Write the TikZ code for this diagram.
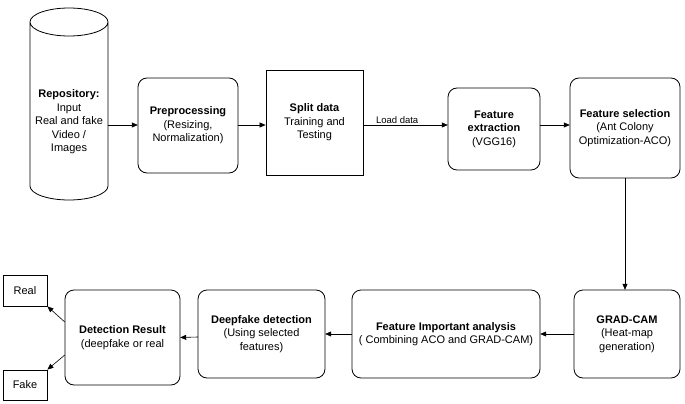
\documentclass[tikz,border=0pt]{standalone}
\usepackage{fontspec}
\setmainfont{Liberation Sans}
\usetikzlibrary{arrows.meta}
\begin{document}
\begin{tikzpicture}[x=1pt,y=-1pt,
  every node/.style={font=\fontsize{11}{13.5}\selectfont, align=center, inner sep=1pt},
  rbox/.style={draw, thick, rounded corners=9pt},
  sbox/.style={draw, thick},
  arr/.style={-{Triangle[length=6pt,width=5pt]}, semithick}]
\useasboundingbox (0,0) rectangle (685,404);
\draw[thick] (30,22) arc[start angle=180,end angle=360,x radius=39,y radius=-14]
  arc[start angle=0,end angle=180,x radius=39,y radius=-14] -- (30,186)
  arc[start angle=180,end angle=360,x radius=39,y radius=-14] -- (108,22);
\node[minimum width=78pt, minimum height=192pt] (repo) at (69,104) {};
\node at (69,122) (repot) {\textbf{Repository:}\\Input\\Real and fake\\Video /\\Images};
\draw[rbox] (138,78) rectangle (238,173);
\node (pre) at (188,125.5) [minimum width=100pt,minimum height=95pt] {\textbf{Preprocessing}\\(Resizing,\\Normalization)};
\node[sbox, minimum width=97pt, minimum height=105pt] (split) at (314.5,122.5) {\textbf{Split data}\\Training and\\Testing};
\draw[rbox] (448,88) rectangle (540,170);
\node (fe) at (494,129) [minimum width=92pt,minimum height=82pt] {\textbf{Feature}\\\textbf{extraction}\\(VGG16)};
\draw[rbox] (570,78) rectangle (680,178);
\node (fs) at (625,128) [minimum width=110pt,minimum height=100pt] {\textbf{Feature selection}\\(Ant Colony\\Optimization-ACO)};
\draw[rbox] (574,290) rectangle (680,378);
\node (gc) at (627,334) [minimum width=106pt,minimum height=88pt] {\textbf{GRAD-CAM}\\(Heat-map\\generation)};
\draw[rbox] (352,290) rectangle (540,378);
\node (fia) at (446,334) [minimum width=188pt,minimum height=88pt] {\textbf{Feature Important analysis}\\( Combining ACO and GRAD-CAM)};
\draw[rbox] (198,290) rectangle (325,378);
\node (dd) at (261.5,334) [minimum width=127pt,minimum height=88pt] {\textbf{Deepfake detection}\\(Using selected\\features)};
\draw[rbox] (65,290) rectangle (180,385);
\node (dr) at (122.5,337.5) [minimum width=115pt,minimum height=95pt] {\textbf{Detection Result}\\(deepfake or real};
\node[sbox, minimum width=44pt, minimum height=31pt] (real) at (25,290.5) {Real};
\node[sbox, minimum width=44pt, minimum height=30pt] (fake) at (25,385) {Fake};
\draw[arr] (repo.east |- 0,125) coordinate (r1) -- (pre.west |- r1);
\draw[arr] (pre.east |- 0,125) -- (split.west |- 0,125);
\draw[arr] (split.east |- 0,125) -- node[above, pos=0.4, font=\fontsize{9.5}{10}\selectfont] {Load data} (fe.west |- 0,125);
\draw[arr] (fe.east |- 0,125) -- (fs.west |- 0,125);
\draw[arr] (fs.south) -- (gc.north -| fs.south);
\draw[arr] (gc.west) -- (fia.east);
\draw[arr] (fia.west) -- (dd.east);
\draw[arr] (dd.west |- 0,337) -- (dr.east);
\draw[arr] (dr.west |- 0,322) -- (real.south east);
\draw[arr] (dr.west |- 0,355) -- (fake.north east);
\end{tikzpicture}
\end{document}
